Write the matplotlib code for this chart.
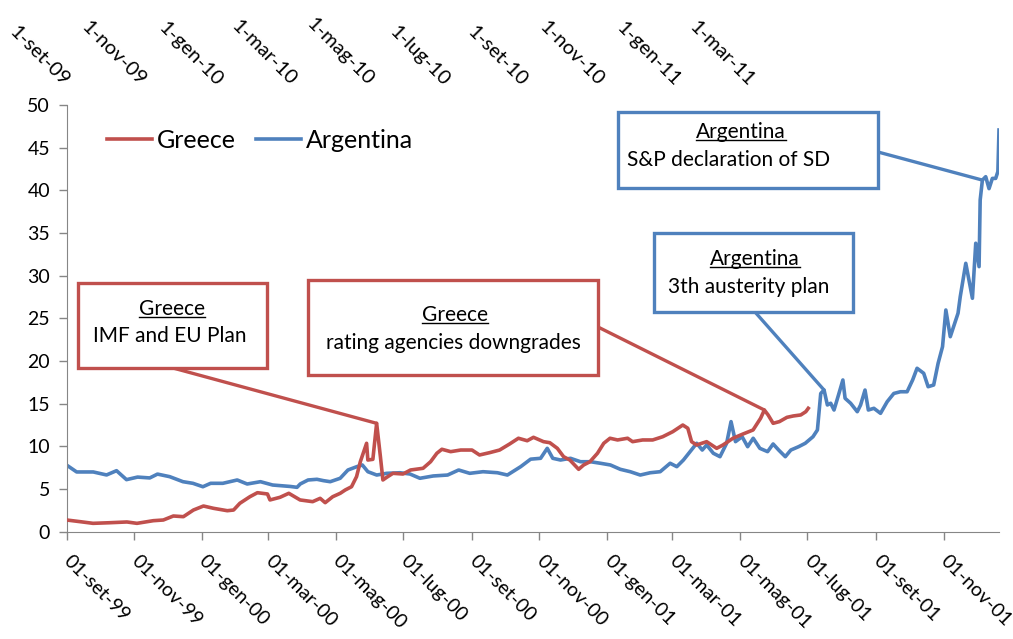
import matplotlib
matplotlib.use('Agg')
import matplotlib.pyplot as plt
import pandas as pd
from matplotlib.patches import Rectangle
from matplotlib.lines import Line2D

plt.rcParams['font.family'] = ['Lato', 'DejaVu Sans']

arg_dates = [
  '1999-09-01', '1999-09-10', '1999-09-25', '1999-10-07', '1999-10-16', '1999-10-25', '1999-11-04',
  '1999-11-15', '1999-11-22', '1999-12-03', '1999-12-15', '1999-12-24',
  '2000-01-02', '2000-01-09', '2000-01-20', '2000-02-02', '2000-02-11', '2000-02-23', '2000-03-05',
  '2000-03-21', '2000-03-27', '2000-03-30',
  '2000-04-06', '2000-04-14', '2000-04-20', '2000-04-26',
  '2000-05-05', '2000-05-12', '2000-05-20', '2000-05-25', '2000-05-30',
  '2000-06-07', '2000-06-16', '2000-06-28',
  '2000-07-07', '2000-07-16', '2000-07-28',
  '2000-08-10', '2000-08-20', '2000-08-30',
  '2000-09-11', '2000-09-24',
  '2000-10-03', '2000-10-15', '2000-10-24',
  '2000-11-02', '2000-11-08', '2000-11-13', '2000-11-20', '2000-11-29',
  '2000-12-08', '2000-12-17', '2000-12-26',
  '2001-01-04', '2001-01-13', '2001-01-22', '2001-01-31',
  '2001-02-09', '2001-02-18', '2001-02-27',
  '2001-03-05', '2001-03-11', '2001-03-17', '2001-03-23', '2001-03-28',
  '2001-04-01', '2001-04-07', '2001-04-13', '2001-04-19', '2001-04-23', '2001-04-27',
  '2001-05-03', '2001-05-08', '2001-05-13', '2001-05-19', '2001-05-26', '2001-05-31',
  '2001-06-05', '2001-06-11', '2001-06-16', '2001-06-23', '2001-06-29',
  '2001-07-06', '2001-07-10', '2001-07-13', '2001-07-16', '2001-07-19', '2001-07-22', '2001-07-25', '2001-07-29',
  '2001-08-02', '2001-08-04', '2001-08-09', '2001-08-15', '2001-08-18', '2001-08-22', '2001-08-25', '2001-08-30',
  '2001-09-05', '2001-09-11', '2001-09-17', '2001-09-23', '2001-09-29',
  '2001-10-04', '2001-10-08', '2001-10-14', '2001-10-18', '2001-10-23', '2001-10-27', '2001-10-31',
  '2001-11-03', '2001-11-07', '2001-11-14', '2001-11-16', '2001-11-21', '2001-11-27', '2001-11-30',
  '2001-12-03', '2001-12-04', '2001-12-06', '2001-12-09', '2001-12-12', '2001-12-15', '2001-12-18',
  '2001-12-20', '2001-12-21']
arg_values = [
  7.8, 7.0, 7.0, 6.65, 7.15, 6.1, 6.4, 6.3, 6.75, 6.45, 5.86, 5.67,
  5.27, 5.67, 5.67, 6.06, 5.59, 5.86, 5.47, 5.3, 5.2, 5.6,
  6.06, 6.14, 5.98, 5.86,
  6.26, 7.23, 7.62, 7.82, 7.03,
  6.64, 6.84, 6.91,
  6.76, 6.26, 6.53,
  6.64, 7.23, 6.84,
  7.03, 6.91,
  6.64, 7.62, 8.5,
  8.6, 9.77, 8.6, 8.4, 8.6,
  8.2, 8.2, 8.02,
  7.82, 7.31, 7.03, 6.64,
  6.91, 7.03, 8.02,
  7.62, 8.4, 9.38, 10.36, 9.57,
  10.16, 9.19, 8.79, 10.36, 12.9, 10.55,
  11.13, 9.96, 10.95, 9.77, 9.38, 10.28,
  9.57, 8.79, 9.57, 9.96, 10.36,
  11.13, 11.92, 16.2, 16.6, 14.85, 15.05, 14.26, 16.0,
  17.78, 15.63, 15.05, 14.06, 14.85, 16.6, 14.26, 14.46,
  13.87, 15.23, 16.2, 16.4, 16.4,
  17.78, 19.15, 18.56, 16.99, 17.19, 19.73, 21.68,
  25.98, 22.85, 25.6, 27.54, 31.45, 27.35, 33.8,
  31.06, 38.87, 41.2, 41.6, 40.2, 41.4, 41.4, 42.2, 47.07]

gre_dates = [
  '2009-09-01', '2009-09-12', '2009-09-22', '2009-10-05', '2009-10-19', '2009-10-27', '2009-11-09',
  '2009-11-17', '2009-11-25', '2009-12-03', '2009-12-11', '2009-12-19', '2009-12-27',
  '2010-01-07', '2010-01-12', '2010-01-17', '2010-01-25', '2010-01-31',
  '2010-02-08', '2010-02-10', '2010-02-18', '2010-02-25',
  '2010-03-06', '2010-03-16', '2010-03-22', '2010-03-26',
  '2010-04-01', '2010-04-07', '2010-04-11', '2010-04-16', '2010-04-20', '2010-04-23', '2010-04-28', '2010-04-29',
  '2010-05-03', '2010-05-06', '2010-05-09', '2010-05-11', '2010-05-14', '2010-05-19', '2010-05-27',
  '2010-06-02', '2010-06-12', '2010-06-18', '2010-06-23', '2010-06-27',
  '2010-07-04', '2010-07-12', '2010-07-21', '2010-07-27',
  '2010-08-04', '2010-08-12', '2010-08-20', '2010-08-27',
  '2010-09-03', '2010-09-08', '2010-09-16', '2010-09-21', '2010-09-27',
  '2010-10-02', '2010-10-07', '2010-10-14', '2010-10-18', '2010-10-23', '2010-10-29',
  '2010-11-03', '2010-11-08', '2010-11-14', '2010-11-22', '2010-11-26',
  '2010-12-04', '2010-12-12', '2010-12-20', '2010-12-28',
  '2011-01-05', '2011-01-09', '2011-01-12', '2011-01-16', '2011-01-24',
  '2011-02-01', '2011-02-06', '2011-02-14', '2011-02-22',
  '2011-03-02', '2011-03-08', '2011-03-11', '2011-03-14', '2011-03-18', '2011-03-23', '2011-03-29',
  '2011-04-03', '2011-04-09', '2011-04-13', '2011-04-15']
gre_values = [
  1.37, 1.17, 0.98, 1.05, 1.14, 0.98, 1.29, 1.37, 1.84, 1.76, 2.54, 3.01, 2.74,
  2.46, 2.54, 3.33, 4.1, 4.57,
  4.42, 3.72, 4.03, 4.5,
  3.72, 3.52, 3.91, 3.4,
  4.1, 4.5, 4.89, 5.27, 6.45, 8.2, 10.36, 8.4,
  8.48, 12.7, 8.8, 6.06, 6.37, 6.84, 6.76,
  7.23, 7.43, 8.2, 9.19, 9.66,
  9.38, 9.57, 9.57, 8.99,
  9.26, 9.57, 10.28, 10.95,
  10.66, 11.06, 10.55, 10.43, 9.77,
  8.79, 8.4, 7.31, 7.82, 8.2, 9.19,
  10.36, 10.95, 10.75, 10.95, 10.55,
  10.75, 10.75, 11.13, 11.72,
  12.5, 12.12, 10.55, 10.16, 10.55,
  9.77, 10.16, 10.95, 11.45,
  11.92, 13.29, 14.26, 13.68, 12.7, 12.9, 13.4,
  13.56, 13.68, 14.06, 14.46]

bottom_ticks = ['1999-09-01', '1999-11-01', '2000-01-01', '2000-03-01', '2000-05-01', '2000-07-01', '2000-09-01',
                '2000-11-01', '2001-01-01', '2001-03-01', '2001-05-01', '2001-07-01', '2001-09-01', '2001-11-01']
bottom_labels = ['01-set-99', '01-nov-99', '01-gen-00', '01-mar-00', '01-mag-00', '01-lug-00', '01-set-00',
                 '01-nov-00', '01-gen-01', '01-mar-01', '01-mag-01', '01-lug-01', '01-set-01', '01-nov-01']
top_ticks = ['2009-09-01', '2009-11-01', '2010-01-01', '2010-03-01', '2010-05-01', '2010-07-01',
             '2010-09-01', '2010-11-01', '2011-01-01', '2011-03-01']
top_labels = ['1-set-09', '1-nov-09', '1-gen-10', '1-mar-10', '1-mag-10', '1-lug-10',
              '1-set-10', '1-nov-10', '1-gen-11', '1-mar-11']

RED = '#C0504D'
BLUE = '#4F81BD'
AXIS = '#868686'

W, H = 1013, 639

def fx(px):
  return px / W

def fy(py):
  return 1 - py / H


fig = plt.figure(figsize=(W / 100, H / 100), dpi=100)
ax = fig.add_axes([fx(66.7), fy(531.7), fx(999) - fx(66.7), fy(105) - fy(531.7)])
ax2 = ax.twiny()

la, = ax.plot(pd.to_datetime(arg_dates), arg_values, color=BLUE, lw=2.6, solid_joinstyle='round')
lg, = ax2.plot(pd.to_datetime(gre_dates), gre_values, color=RED, lw=2.6, solid_joinstyle='round')

ax.set_ylim(0, 50)
ax.set_yticks(range(0, 51, 5))
ax.set_xlim(pd.Timestamp(arg_dates[0]), pd.Timestamp(arg_dates[-1]))
ax2.set_xlim(pd.Timestamp(gre_dates[0]), pd.Timestamp('2011-09-14'))

ax.set_xticks(pd.to_datetime(bottom_ticks), bottom_labels, rotation=-45, ha='left', va='center',
              rotation_mode='anchor')
ax2.set_xticks(pd.to_datetime(top_ticks), top_labels, rotation=-45, ha='right', va='center',
               rotation_mode='anchor')

for side in ['top', 'right']:
  ax.spines[side].set_visible(False)
for side in ['left', 'bottom']:
  ax.spines[side].set_color(AXIS)
for side in ax2.spines:
  ax2.spines[side].set_visible(False)

ax.tick_params(axis='y', direction='out', length=6, width=1, color=AXIS, labelsize=14, pad=6)
ax.tick_params(axis='x', direction='out', length=6, width=1, color=AXIS, labelsize=14, pad=13)
ax2.tick_params(axis='x', length=0, labelsize=14.5, pad=16)

ax2.legend([lg, la], ['Greece', 'Argentina'], loc='center left', bbox_to_anchor=(fx(107), fy(140)),
           bbox_transform=fig.transFigure, ncol=2, frameon=False, fontsize=18, handlelength=1.8,
           handletextpad=0.2, columnspacing=0.8, borderpad=0, borderaxespad=0)

# callout boxes: box in pixels (left, top, right, bottom), line start, title and body centres in pixels
callouts = [
  (ax2, gre_dates, gre_values, '2010-05-06', (78, 283, 267, 368), (173, 368),
   (172, 309), (170, 336), 'Greece', 'IMF and EU Plan', RED),
  (ax2, gre_dates, gre_values, '2011-03-11', (308, 280, 598, 375), (598, 327),
   (455, 315), (453, 343), 'Greece', 'rating agencies downgrades', RED),
  (ax, arg_dates, arg_values, '2001-07-16', (654, 233, 853, 312), (755, 312),
   (755, 259), (749, 287), 'Argentina', '3th austerity plan', BLUE),
  (ax, arg_dates, arg_values, '2001-12-06', (618, 112, 878, 188), (878, 152),
   (741, 132), (729, 160), 'Argentina', 'S&P declaration of SD', BLUE),
]

titles = []
for axis, dates, values, when, box, start, tpos, bpos, title, body, color in callouts:
  axis.annotate('', xy=(pd.Timestamp(when), values[dates.index(when)]), xycoords='data',
                xytext=(fx(start[0]), fy(start[1])), textcoords='figure fraction', annotation_clip=False,
                arrowprops=dict(arrowstyle='-', color=color, lw=2.4, shrinkA=0, shrinkB=0))
  x0, y0, x1, y1 = box
  fig.add_artist(Rectangle((fx(x0), fy(y1)), fx(x1) - fx(x0), fy(y0) - fy(y1), transform=fig.transFigure,
                           facecolor='white', edgecolor=color, lw=2.4, zorder=10))
  t = fig.text(fx(tpos[0]), fy(tpos[1]), title, ha='center', va='center', fontsize=15, zorder=11)
  fig.text(fx(bpos[0]), fy(bpos[1]), body, ha='center', va='center', fontsize=15, zorder=11)
  titles.append(t)

# underline the box titles
fig.canvas.draw()
for t in titles:
  bb = t.get_window_extent()
  yl = (bb.y0 + 2) / H
  fig.add_artist(Line2D([bb.x0 / W, bb.x1 / W], [yl, yl], transform=fig.transFigure,
                        color='black', lw=1, zorder=12))

fig.savefig('out.png', dpi=100)
